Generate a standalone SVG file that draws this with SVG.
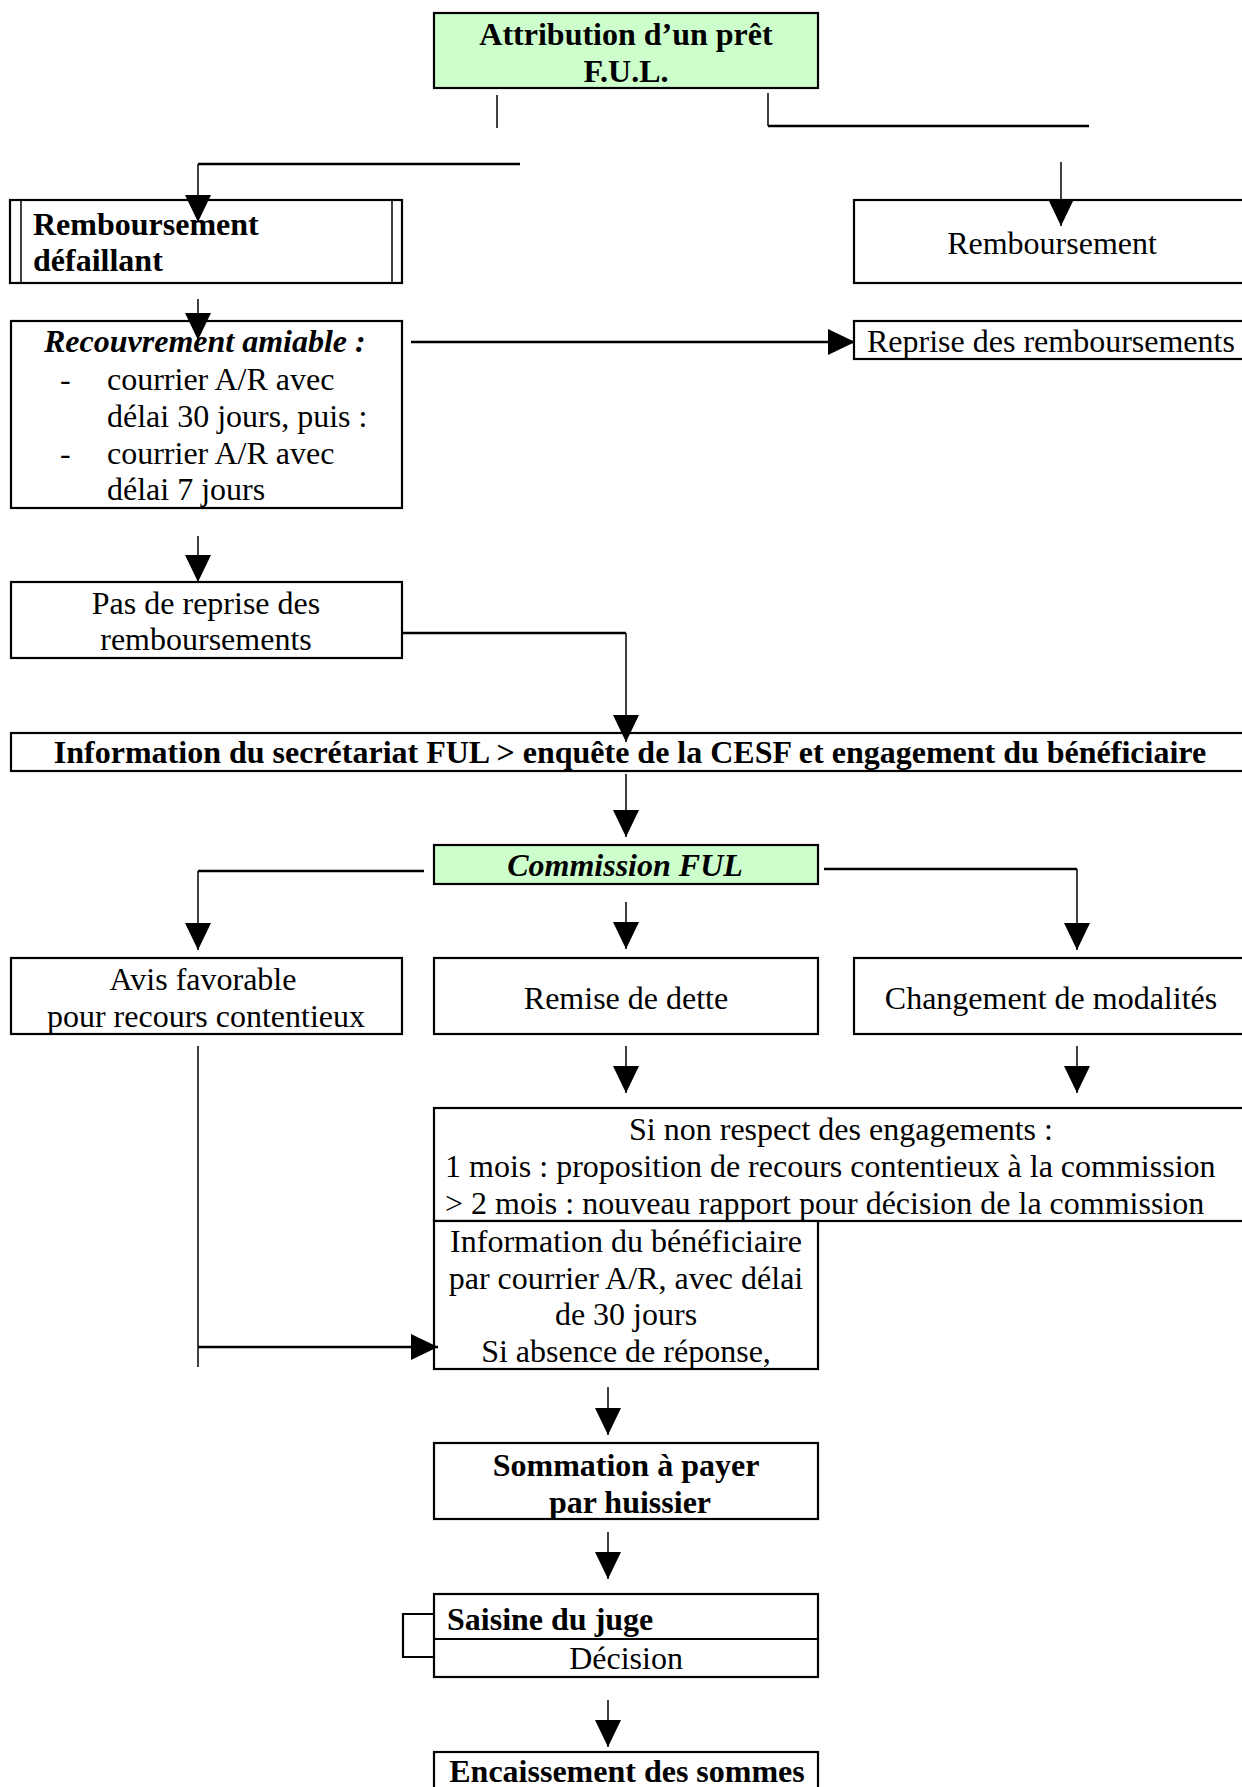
<svg xmlns="http://www.w3.org/2000/svg" width="1242" height="1787" viewBox="0 0 1242 1787">
<defs>
<style>
.box{fill:#ffffff;stroke:#000;stroke-width:2.2}
.green{fill:#ccffcc}
.t{font-family:"Liberation Serif","Times New Roman",serif;font-size:32px;fill:#000}
.b{font-weight:bold}
.i{font-style:italic}
.m{text-anchor:middle}
.v{fill:none;stroke:#000;stroke-width:1.5}
.h{fill:none;stroke:#000;stroke-width:2.5}
</style>
<marker id="arr" markerUnits="userSpaceOnUse" markerWidth="28" markerHeight="28" refX="27" refY="13" orient="auto">
<path d="M0,0 L27,13 L0,26 z" fill="#000"/>
</marker>
</defs>
<rect width="1242" height="1787" fill="#fff"/>

<g id="n-attribution">
<rect class="box green" x="434" y="13" width="384" height="75"/>
<text class="t b m" x="626" y="45">Attribution d’un prêt</text>
<text class="t b m" x="626" y="82">F.U.L.</text>
</g>

<g id="n-defaillant">
<rect class="box" x="10" y="200" width="392" height="83"/>
<line x1="21" y1="200" x2="21" y2="283" stroke="#000" stroke-width="1.5"/>
<line x1="392" y1="200" x2="392" y2="283" stroke="#000" stroke-width="1.5"/>
<text class="t b" x="33" y="235">Remboursement</text>
<text class="t b" x="33" y="271">défaillant</text>
</g>

<g id="n-remboursement">
<rect class="box" x="854" y="200" width="400" height="83"/>
<text class="t m" x="1052" y="254">Remboursement</text>
</g>

<g id="n-recouvrement">
<rect class="box" x="11" y="321" width="391" height="187"/>
<text class="t b i" x="44" y="352">Recouvrement amiable :</text>
<text class="t" x="60" y="390">-</text>
<text class="t" x="107" y="390">courrier A/R avec</text>
<text class="t" x="107" y="427">délai 30 jours, puis :</text>
<text class="t" x="60" y="464">-</text>
<text class="t" x="107" y="464">courrier A/R avec</text>
<text class="t" x="107" y="500">délai 7 jours</text>
</g>

<g id="n-reprise">
<rect class="box" x="854" y="321" width="400" height="38"/>
<text class="t" x="867" y="352">Reprise des remboursements</text>
</g>

<g id="n-pasreprise">
<rect class="box" x="11" y="582" width="391" height="76"/>
<text class="t m" x="206" y="614">Pas de reprise des</text>
<text class="t m" x="206" y="650">remboursements</text>
</g>

<g id="n-information">
<rect class="box" x="11" y="733" width="1243" height="38"/>
<text class="t b m" x="630" y="763">Information du secrétariat FUL &gt; enquête de la CESF et engagement du bénéficiaire</text>
</g>

<g id="n-commission">
<rect class="box green" x="434" y="845" width="384" height="39"/>
<text class="t b i m" x="625" y="876">Commission FUL</text>
</g>

<g id="n-avis">
<rect class="box" x="11" y="958" width="391" height="76"/>
<text class="t m" x="203" y="990">Avis favorable</text>
<text class="t m" x="206" y="1027">pour recours contentieux</text>
</g>

<g id="n-remise">
<rect class="box" x="434" y="958" width="384" height="76"/>
<text class="t m" x="626" y="1009">Remise de dette</text>
</g>

<g id="n-changement">
<rect class="box" x="854" y="958" width="400" height="76"/>
<text class="t m" x="1051" y="1009">Changement de modalités</text>
</g>

<g id="n-nonrespect">
<rect class="box" x="434" y="1108" width="820" height="113"/>
<text class="t m" x="841" y="1140">Si non respect des engagements :</text>
<text class="t" x="445" y="1177">1 mois : proposition de recours contentieux à la commission</text>
<text class="t" x="445" y="1214">&gt; 2 mois : nouveau rapport pour décision de la commission</text>
</g>

<g id="n-infobenef">
<rect class="box" x="434" y="1221" width="384" height="148"/>
<text class="t m" x="626" y="1252">Information du bénéficiaire</text>
<text class="t m" x="626" y="1289">par courrier A/R, avec délai</text>
<text class="t m" x="626" y="1325">de 30 jours</text>
<text class="t m" x="626" y="1362">Si absence de réponse,</text>
</g>

<g id="n-sommation">
<rect class="box" x="434" y="1443" width="384" height="76"/>
<text class="t b m" x="626" y="1476">Sommation à payer</text>
<text class="t b m" x="630" y="1513">par huissier</text>
</g>

<g id="n-saisine">
<rect class="box" x="434" y="1594" width="384" height="83"/>
<line x1="434" y1="1639" x2="818" y2="1639" stroke="#000" stroke-width="2.2"/>
<text class="t b" x="447" y="1630">Saisine du juge</text>
<text class="t m" x="626" y="1669">Décision</text>
</g>

<g id="n-encaissement">
<rect class="box" x="434" y="1752" width="384" height="50"/>
<text class="t b m" x="627" y="1782">Encaissement des sommes</text>
</g>

<g id="connectors">
<line class="v" x1="497" y1="95" x2="497" y2="128"/>
<polyline class="v" points="768,93 768,126"/>
<line class="h" x1="768" y1="126" x2="1089" y2="126"/>
<line class="h" x1="198" y1="164" x2="520" y2="164"/>
<line class="v" x1="198" y1="164" x2="198" y2="222" marker-end="url(#arr)"/>
<line class="v" x1="1061" y1="162" x2="1061" y2="226" marker-end="url(#arr)"/>
<line class="v" x1="198" y1="299" x2="198" y2="340" marker-end="url(#arr)"/>
<line class="h" x1="411" y1="342" x2="855" y2="342" marker-end="url(#arr)"/>
<line class="v" x1="198" y1="536" x2="198" y2="582" marker-end="url(#arr)"/>
<line class="h" x1="402" y1="633" x2="626" y2="633"/>
<line class="v" x1="626" y1="633" x2="626" y2="742" marker-end="url(#arr)"/>
<line class="v" x1="626" y1="774" x2="626" y2="837" marker-end="url(#arr)"/>
<line class="h" x1="424" y1="871" x2="198" y2="871"/>
<line class="v" x1="198" y1="871" x2="198" y2="950" marker-end="url(#arr)"/>
<line class="v" x1="626" y1="902" x2="626" y2="949" marker-end="url(#arr)"/>
<line class="h" x1="824" y1="869" x2="1077" y2="869"/>
<line class="v" x1="1077" y1="869" x2="1077" y2="950" marker-end="url(#arr)"/>
<line class="v" x1="198" y1="1046" x2="198" y2="1367"/>
<line class="h" x1="198" y1="1347" x2="438" y2="1347" marker-end="url(#arr)"/>
<line class="v" x1="626" y1="1046" x2="626" y2="1093" marker-end="url(#arr)"/>
<line class="v" x1="1077" y1="1046" x2="1077" y2="1093" marker-end="url(#arr)"/>
<line class="v" x1="608" y1="1387" x2="608" y2="1435" marker-end="url(#arr)"/>
<line class="v" x1="608" y1="1532" x2="608" y2="1579" marker-end="url(#arr)"/>
<polyline fill="none" stroke="#000" stroke-width="2.2" points="434,1614 403,1614 403,1657 434,1657"/>
<line class="v" x1="608" y1="1700" x2="608" y2="1747" marker-end="url(#arr)"/>
</g>
</svg>
